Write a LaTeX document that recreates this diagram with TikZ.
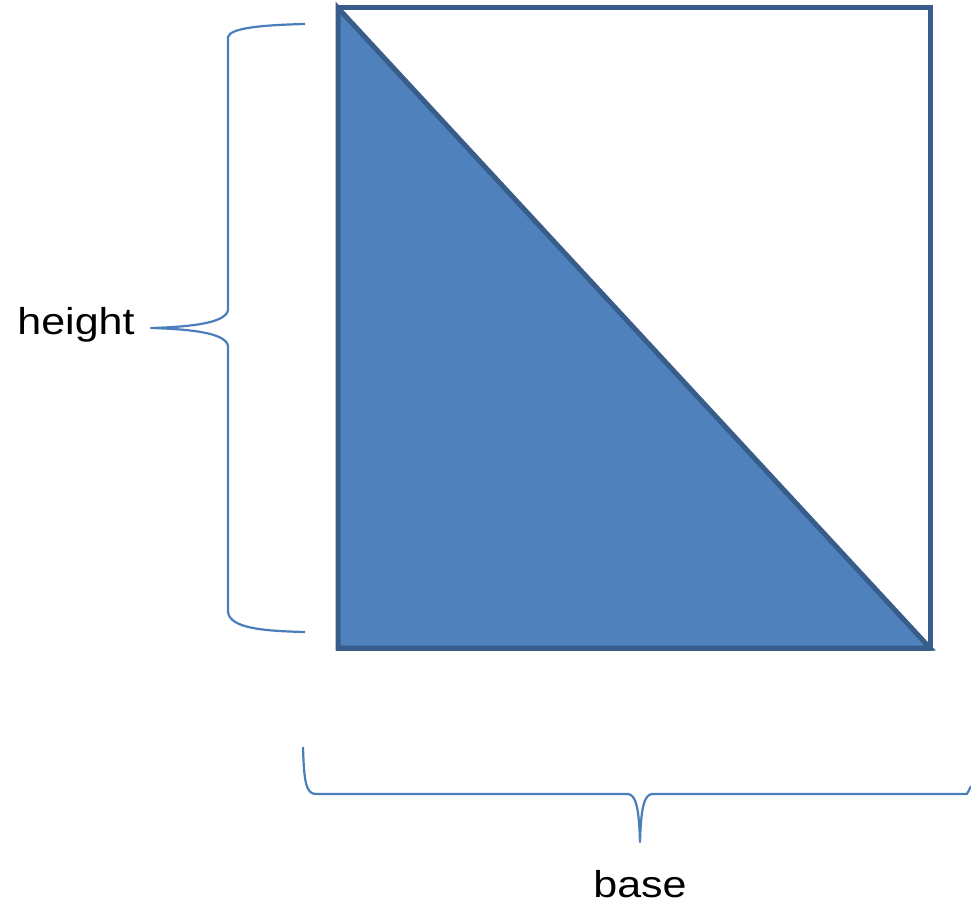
\documentclass[tikz,border=0pt]{standalone}
\usepackage{fontspec}
\setmainfont{Liberation Sans}
\definecolor{fillblue}{HTML}{4F81BD}
\definecolor{edgeblue}{HTML}{385D8A}
\definecolor{bracecol}{HTML}{4A7EBB}
\newcommand{\squish}[1]{\scalebox{1}[0.87]{#1}}
\begin{document}
\begin{tikzpicture}[x=1pt,y=-1pt,
  bracestyle/.style={draw=bracecol,line width=2.2pt,line join=round},
  shapestyle/.style={draw=edgeblue,line width=5pt,line join=miter},
  labelstyle/.style={font=\fontsize{43}{50}\selectfont,inner sep=0pt,anchor=base}]
\useasboundingbox (0,0) rectangle (971,909);
\coordinate (tl) at (338,8);
\coordinate (tr) at (930,8);
\coordinate (br) at (930,648);
\coordinate (bl) at (338,648);
\draw[shapestyle,fill=white] (tl) -- (tr) -- (br) -- (bl) -- cycle;
\draw[shapestyle,fill=fillblue] (tl) -- (br) -- (bl) -- cycle;
% left brace
\draw[bracestyle] (305,24) .. controls (262,25) and (230,28) .. (228,37) -- (228,310)
  .. controls (226,324) and (185,327) .. (151,328)
  .. controls (185,329) and (226,332) .. (228,346) -- (228,612)
  .. controls (230,628) and (262,631) .. (305,632);
% bottom brace
\draw[bracestyle] (303,747) .. controls (304,782) and (306,794) .. (316,794) -- (628,794)
  .. controls (636,795) and (639,808) .. (640,842)
  .. controls (641,808) and (644,795) .. (652,794) -- (967,794) -- (971,786);
\node[labelstyle] (height) at (76,334) {\squish{height}};
\node[labelstyle] (base) at (640,897) {\squish{base}};
\end{tikzpicture}
\end{document}
